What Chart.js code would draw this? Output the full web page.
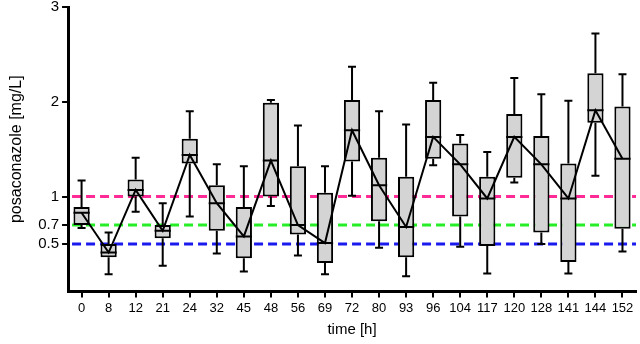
<!DOCTYPE html>
<html>
<head>
<meta charset="utf-8">
<script src="https://cdn.jsdelivr.net/npm/chart.js@4.4.1/dist/chart.umd.min.js"></script>
<style>
  html, body { margin: 0; padding: 0; background: #fff; }
  #wrap { width: 640px; height: 344px; }
</style>
</head>
<body>
<div id="wrap"><canvas id="posaChart" width="640" height="344"></canvas></div>
<script>
// sampling times and box plot summary
const times = ['0', '8', '12', '21', '24', '32', '45', '48', '56', '69', '72',
  '80', '93', '96', '104', '117', '120', '128', '141', '144', '152'];
const whiskerLow  = [0.67, 0.18, 0.84, 0.27, 0.79, 0.40, 0.21, 0.90, 0.38, 0.18, 1.01,
  0.46, 0.16, 1.33, 0.47, 0.19, 1.15, 0.50, 0.19, 1.22, 0.42];
const q1          = [0.70, 0.36, 1.00, 0.56, 1.35, 0.64, 0.35, 1.00, 0.60, 0.30, 1.37,
  0.74, 0.36, 1.40, 0.79, 0.48, 1.20, 0.62, 0.31, 1.78, 0.66];
const medians     = [0.83, 0.41, 1.07, 0.64, 1.44, 0.93, 0.58, 1.38, 0.70, 0.51, 1.70,
  1.12, 0.68, 1.63, 1.34, 0.98, 1.63, 1.34, 0.98, 1.91, 1.40];
const q3          = [0.89, 0.50, 1.18, 0.70, 1.61, 1.12, 0.89, 1.99, 1.32, 1.04, 2.02,
  1.41, 1.21, 2.02, 1.56, 1.21, 1.87, 1.64, 1.35, 2.30, 1.95];
const whiskerHigh = [1.17, 0.62, 1.41, 0.93, 1.90, 1.34, 1.32, 2.02, 1.75, 1.32, 2.37,
  1.90, 1.76, 2.20, 1.65, 1.47, 2.25, 2.08, 2.01, 2.72, 2.29];

const yTicks = [0.5, 0.7, 1, 2, 3];
const refLevels = [1, 0.7, 0.5];
const refColors = ['#ff2a96', '#26ee26', '#1a1aee'];

// dashed reference lines behind, whiskers + median marks on top of boxes
const boxExtras = {
  id: 'boxExtras',
  beforeDatasetsDraw(chart) {
    const { ctx, chartArea, scales } = chart;
    ctx.save();
    ctx.lineWidth = 3;
    ctx.setLineDash([9, 5]);
    refLevels.forEach((lvl, k) => {
      const y = scales.y.getPixelForValue(lvl);
      ctx.strokeStyle = refColors[k];
      ctx.beginPath();
      ctx.moveTo(chartArea.left + 4, y);
      ctx.lineTo(chartArea.right, y);
      ctx.stroke();
    });
    ctx.restore();
  },
  afterDatasetDraw(chart, args) {
    if (args.meta.type !== 'bar') return;
    const { ctx, scales } = chart;
    const ys = scales.y;
    ctx.save();
    ctx.strokeStyle = '#000';
    ctx.lineWidth = 2;
    args.meta.data.forEach((bar, i) => {
      const x = bar.x;
      const half = bar.width / 2;
      const cap = 4;
      const yLo = ys.getPixelForValue(whiskerLow[i]);
      const yQ1 = ys.getPixelForValue(q1[i]);
      const yQ3 = ys.getPixelForValue(q3[i]);
      const yHi = ys.getPixelForValue(whiskerHigh[i]);
      const yMed = ys.getPixelForValue(medians[i]);
      ctx.beginPath();
      ctx.moveTo(x, yQ3); ctx.lineTo(x, yHi);
      ctx.moveTo(x - cap, yHi); ctx.lineTo(x + cap, yHi);
      ctx.moveTo(x, yQ1); ctx.lineTo(x, yLo);
      ctx.moveTo(x - cap, yLo); ctx.lineTo(x + cap, yLo);
      ctx.moveTo(x - half, yMed); ctx.lineTo(x + half, yMed);
      ctx.stroke();
    });
    ctx.restore();
  }
};

const ctx = document.getElementById('posaChart').getContext('2d');
const posaChart = new Chart(ctx, {
  type: 'bar',
  data: {
    labels: times,
    datasets: [
      {
        type: 'line',
        data: medians,
        borderColor: '#000',
        borderWidth: 2,
        pointRadius: 0,
        tension: 0,
        order: 0
      },
      {
        type: 'bar',
        data: q1.map((v, i) => [v, q3[i]]),
        backgroundColor: '#d4d4d4',
        borderColor: '#000',
        borderWidth: 2,
        borderSkipped: false,
        barPercentage: 0.6,
        categoryPercentage: 1,
        order: 1
      }
    ]
  },
  options: {
    responsive: false,
    animation: false,
    layout: { padding: { left: 3, right: 4, top: 0, bottom: 1 } },
    plugins: {
      legend: { display: false },
      tooltip: { enabled: false }
    },
    scales: {
      x: {
        grid: { drawOnChartArea: false, drawTicks: true, tickLength: 6, color: '#000', lineWidth: 2, offset: false },
        border: { color: '#000', width: 3 },
        ticks: { color: '#000', font: { family: 'Liberation Sans', size: 13 }, padding: 3, maxRotation: 0, autoSkip: false },
        title: { display: true, text: 'time [h]', color: '#000', font: { family: 'Liberation Sans', size: 15 }, padding: { top: 2 } }
      },
      y: {
        min: 0,
        max: 3,
        afterBuildTicks(axis) {
          axis.ticks = yTicks.map(v => ({ value: v }));
        },
        afterFit(axis) {
          axis.paddingTop = 7;
        },
        grid: { drawOnChartArea: false, drawTicks: true, tickLength: 6, color: '#000', lineWidth: 2 },
        border: { color: '#000', width: 3 },
        ticks: {
          color: '#000',
          font: { family: 'Liberation Sans', size: 15, lineHeight: 1 },
          padding: 3,
          callback: v => String(v)
        },
        title: { display: true, text: 'posaconazole [mg/L]', color: '#000', font: { family: 'Liberation Sans', size: 16 }, padding: { bottom: 9 } }
      }
    }
  },
  plugins: [boxExtras]
});
</script>
</body>
</html>
